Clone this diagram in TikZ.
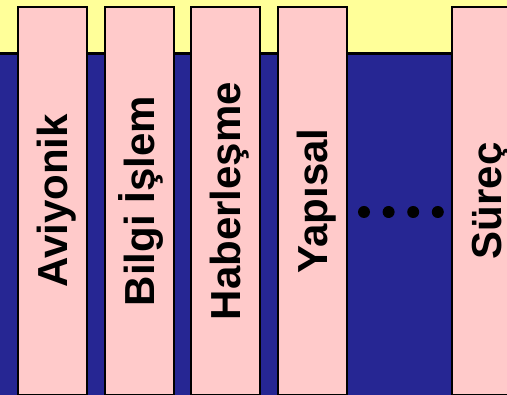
\documentclass[tikz,border=0pt]{standalone}
\usepackage{fontspec}
\setmainfont{Liberation Sans}
\usetikzlibrary{positioning}

\definecolor{bandyellow}{HTML}{FFFF99}
\definecolor{deepblue}{HTML}{262693}
\definecolor{colpink}{HTML}{FFCACA}

\tikzset{
	pillar/.style={rotate=90, draw=black, line width=2pt, fill=colpink,
		minimum width=388pt, minimum height=69pt, inner sep=0pt,
		text height=30.5pt, text depth=0pt,
		font=\fontsize{42}{42}\selectfont\bfseries},
	dot/.style={circle, fill=black, minimum size=12pt, inner sep=0pt},
}

\begin{document}
\begin{tikzpicture}[x=1pt, y=-1pt]
	\useasboundingbox (0,0) rectangle (507,395);
	\clip (0,0) rectangle (507,395);

	% background: yellow band on top, blue field below
	\fill[bandyellow] (0,0) rectangle (507,54);
	\fill[deepblue] (0,54) rectangle (507,395);
	\draw[line width=3pt] (0,53.5) -- (507,53.5);

	% the pillars
	\foreach \x/\name/\lbl in {52/avi/Aviyonik, 139/bil/Bilgi İşlem,
			225.5/hab/Haberleşme, 312/yap/Yapısal, 486/sur/Süreç}
		\node[pillar] (\name) at (\x,201) {\lbl};

	% four dots between Yapısal and Süreç
	\node[dot] (dot1) at (364,212) {};
	\node[dot, right=12.2pt of dot1] (dot2) {};
	\node[dot, right=12.2pt of dot2] (dot3) {};
	\node[dot, right=12.2pt of dot3] (dot4) {};
\end{tikzpicture}
\end{document}
